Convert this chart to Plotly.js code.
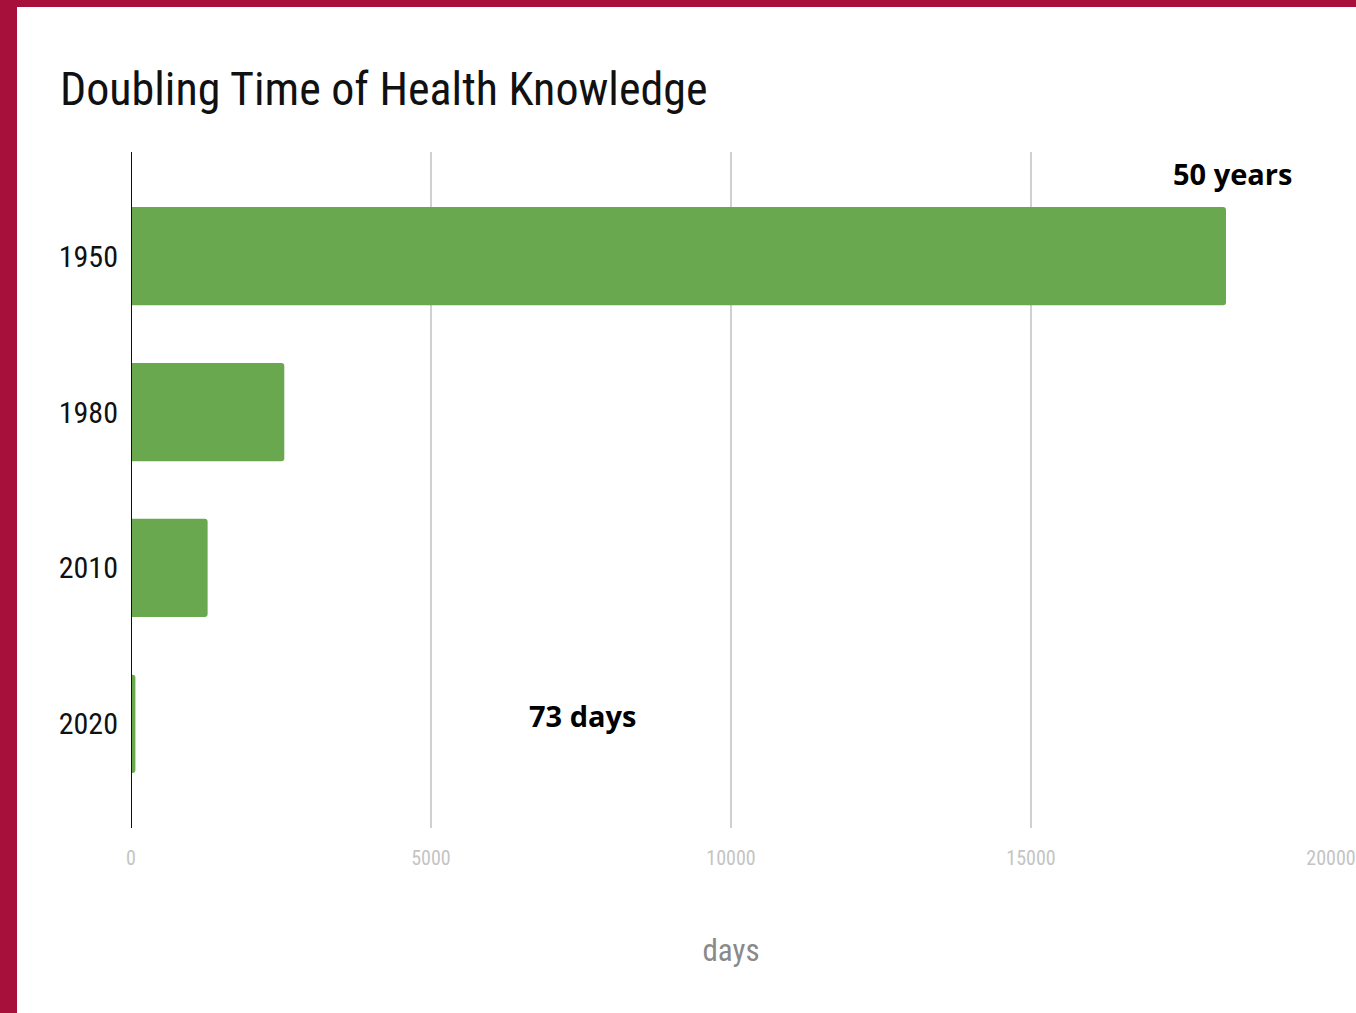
<!DOCTYPE html>
<html>
<head>
<meta charset="utf-8">
<script src="https://cdn.plot.ly/plotly-3.0.1.min.js"></script>
<style>
  html, body { margin: 0; padding: 0; background: #A6103A; width: 1356px; height: 1013px; overflow: hidden; }
  #chart { position: absolute; left: 17px; top: 7px; width: 1339px; height: 1006px; background: #fff; }
</style>
</head>
<body>
<div id="chart"></div>
<script>
const years = ["1950", "1980", "2010", "2020"];
const doublingDays = [18250, 2555, 1277, 73];
const barLabels = ["50 years", "73 days"];
const xTickVals = [0, 5000, 10000, 15000, 20000];
const xTickText = ["0", "5000", "10000", "15000", "20000"];

const narrow = "'Liberation Sans Narrow', 'Roboto Condensed', 'DejaVu Sans Condensed', Roboto, sans-serif";
const labelFont = { family: "Open Sans, sans-serif", size: 29, color: "#000000" };

const data = [{
  type: "bar",
  orientation: "h",
  y: years,
  x: doublingDays,
  marker: { color: "#6aa84f", line: { width: 0 } },
  width: 0.63,
  hoverinfo: "skip"
}];

const layout = {
  width: 1339,
  height: 1006,
  paper_bgcolor: "#ffffff",
  plot_bgcolor: "#ffffff",
  margin: { l: 114, r: 25, t: 145, b: 185 },
  showlegend: false,
  barcornerradius: 3,
  title: {
    text: "Doubling Time of Health Knowledge",
    x: 43 / 1339, xanchor: "left", xref: "container",
    y: 1 - 98 / 1006, yanchor: "bottom", yref: "container",
    font: { family: narrow, size: 46, color: "#111111" }
  },
  xaxis: {
    range: [0, 20000],
    tickvals: xTickVals,
    ticktext: xTickText,
    showgrid: true,
    gridcolor: "#d0d0d0",
    gridwidth: 1.5,
    zeroline: false,
    showline: false,
    ticks: "",
    ticklabelstandoff: 16,
    tickfont: { family: narrow, size: 20, color: "#c4c4c4" },
    title: { text: "days", standoff: 70, font: { family: narrow, size: 31, color: "#8a8a8a" } },
    fixedrange: true
  },
  yaxis: {
    type: "category",
    categoryorder: "array",
    categoryarray: years,
    autorange: false,
    range: [3.667, -0.667],
    showgrid: false,
    zeroline: false,
    showline: false,
    ticks: "",
    ticklabelstandoff: 12,
    tickfont: { family: narrow, size: 30, color: "#111111" },
    fixedrange: true
  },
  shapes: [{
    type: "line", xref: "x", yref: "paper",
    x0: 0, x1: 0, y0: 0, y1: 1,
    line: { color: "#111111", width: 2 }
  }],
  annotations: [
    {
      text: "<b>" + barLabels[0] + "</b>", xref: "x", yref: "paper",
      x: doublingDays[0], y: 0.968, xshift: 6,
      xanchor: "center", yanchor: "middle",
      showarrow: false,
      font: labelFont
    },
    {
      text: "<b>" + barLabels[1] + "</b>", xref: "paper", yref: "paper",
      x: 451 / 1200, y: 0.166,
      xanchor: "center", yanchor: "middle",
      showarrow: false,
      font: labelFont
    }
  ]
};

Plotly.newPlot("chart", data, layout, { displayModeBar: false, staticPlot: true });
</script>
</body>
</html>
